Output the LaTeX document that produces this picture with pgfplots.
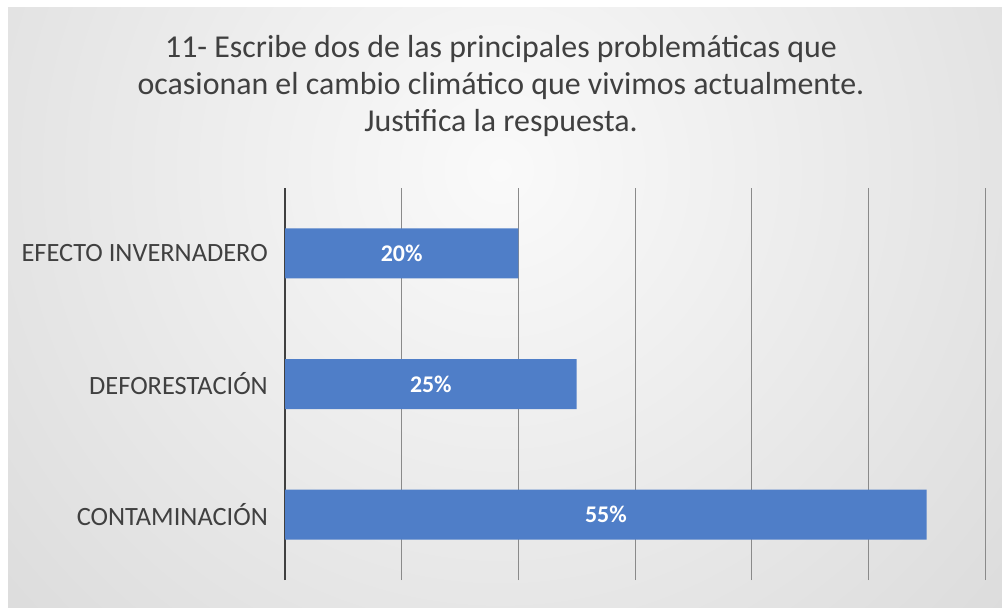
\documentclass[border=0pt]{standalone}
\usepackage{pgfplots}
\pgfplotsset{compat=1.18}
\usepackage{fontspec}
\setmainfont{Carlito}
\definecolor{barblue}{HTML}{4F7EC8}
\definecolor{txt}{HTML}{404040}
\definecolor{gridc}{HTML}{8A8A8A}
\definecolor{bgouter}{HTML}{C2C2C2}
\definecolor{bginner}{HTML}{FAFAFA}
\begin{document}
\begin{tikzpicture}[x=1bp,y=1bp]
\useasboundingbox (0,0) rectangle (1002,-608);
\fill[white] (0,0) rectangle (1002,-608);
\begin{scope}
\clip (8,-8) rectangle (1002,-608);
\shade[inner color=bginner, outer color=bgouter] (500,-170) circle (1250);
\end{scope}
\node[font=\fontsize{32}{37}\selectfont, text=txt, align=center] at (501,-86)
  {11- Escribe dos de las principales problemáticas que\\
   ocasionan el cambio\ climático que vivimos actualmente.\\
   Justifica la respuesta.};
\begin{axis}[
  at={(285bp,-580bp)}, anchor=south west,
  scale only axis, width=700bp, height=392bp,
  xmin=0, xmax=60, ymin=-0.5, ymax=2.5,
  xbar, bar width=50bp,
  axis line style={draw=none},
  xtick={10,20,30,40,50,60}, xticklabels={},
  xmajorgrids, grid style={draw=gridc, line width=0.8bp},
  extra x ticks={0}, extra x tick labels={},
  extra x tick style={grid style={draw=txt, line width=2.6bp}},
  major tick length=0pt,
  ytick={0,1,2},
  yticklabels={CONTAMINACIÓN, DEFORESTACIÓN, EFECTO INVERNADERO},
  yticklabel style={font=\fontsize{26.5}{30}\selectfont, text=txt, inner sep=0pt, xshift=-17bp},
  ytick style={draw=none},
  /pgf/number format/assume math mode=true,
  nodes near coords={\pgfmathprintnumber{\pgfplotspointmeta}\%},
  visualization depends on={rawx \as \rawx},
  every node near coord/.append style={anchor=center, font=\fontsize{24}{28}\selectfont\bfseries, text=white,
    shift={(axis direction cs:-\rawx/2,0)}},
]
\addplot[fill=barblue, draw=none] coordinates {(55,0) (25,1) (20,2)};
\end{axis}
\end{tikzpicture}
\end{document}
